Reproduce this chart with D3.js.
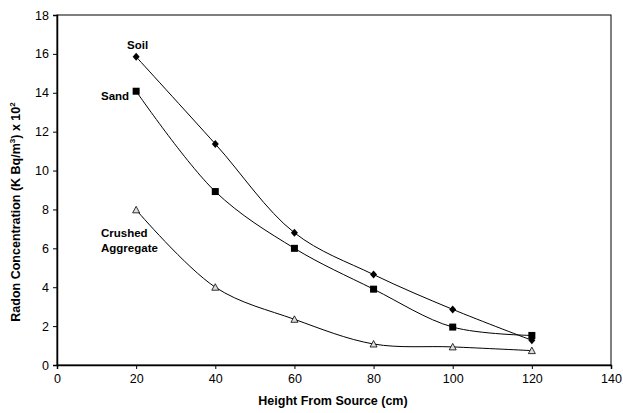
<!DOCTYPE html>
<html>
<head>
<meta charset="utf-8">
<script src="https://cdn.jsdelivr.net/npm/d3@7"></script>
<style>
  body { margin: 0; background: #fff; }
  text { font-family: Arial, "Liberation Sans", sans-serif; }
</style>
</head>
<body>
<div id="vis"></div>
<script>
var heights = [20, 40, 60, 80, 100, 120];
var soil = [15.85, 11.37, 6.8, 4.65, 2.86, 1.27];
var sand = [14.08, 8.92, 6.0, 3.9, 1.95, 1.52];
var crushed = [7.98, 4.0, 2.35, 1.08, 0.93, 0.74];
var xTicks = [0, 20, 40, 60, 80, 100, 120, 140];
var yTicks = [0, 2, 4, 6, 8, 10, 12, 14, 16, 18];

var width = 623;
var height = 413;
var plotLeft = 57, plotRight = 611, plotTop = 15, plotBottom = 365;

var svgElement = d3.select('#vis').append('svg')
    .attr('width', width)
    .attr('height', height);

var x = d3.scaleLinear().domain([0, 140]).range([plotLeft, plotRight]);
var y = d3.scaleLinear().domain([0, 18]).range([plotBottom, plotTop]);

// frame
svgElement.append('rect')
    .attr('x', plotLeft).attr('y', plotTop)
    .attr('width', plotRight - plotLeft).attr('height', plotBottom - plotTop)
    .attr('fill', 'none').attr('stroke', '#000').attr('stroke-width', 1);

var yAxis = svgElement.append('g')
    .attr('transform', 'translate(' + plotLeft + ',0)')
    .call(d3.axisLeft(y).tickValues(yTicks).tickSize(4).tickPadding(4));
var xAxis = svgElement.append('g')
    .attr('transform', 'translate(0,' + plotBottom + ')')
    .call(d3.axisBottom(x).tickValues(xTicks).tickSize(4).tickPadding(5));

[xAxis, yAxis].forEach(function (a) {
    a.selectAll('text').attr('font-size', 12.5).attr('font-family', 'Arial, Liberation Sans, sans-serif').attr('fill', '#000');
    a.selectAll('line').attr('stroke', '#000');
    a.select('.domain').attr('stroke', '#000').attr('stroke-width', 1.5);
});

var line = d3.line()
    .x(function (d) { return x(d[0]); })
    .y(function (d) { return y(d[1]); })
    .curve(d3.curveCatmullRom.alpha(0.5));

function pairs(vals) {
    return heights.map(function (h, i) { return [h, vals[i]]; });
}

[soil, sand, crushed].forEach(function (s) {
    svgElement.append('path')
        .attr('d', line(pairs(s)))
        .attr('fill', 'none')
        .attr('stroke', '#000')
        .attr('stroke-width', 1);
});

// markers
svgElement.selectAll('.soil').data(pairs(soil)).enter()
    .append('path')
    .attr('transform', function (d) { return 'translate(' + x(d[0]) + ',' + y(d[1]) + ')'; })
    .attr('d', 'M0,-4L3.5,0L0,4L-3.5,0Z')
    .attr('fill', '#000');

svgElement.selectAll('.sand').data(pairs(sand)).enter()
    .append('rect')
    .attr('x', function (d) { return x(d[0]) - 3.5; })
    .attr('y', function (d) { return y(d[1]) - 3.5; })
    .attr('width', 7).attr('height', 7)
    .attr('fill', '#000');

svgElement.selectAll('.crushed').data(pairs(crushed)).enter()
    .append('path')
    .attr('transform', function (d) { return 'translate(' + x(d[0]) + ',' + y(d[1]) + ')'; })
    .attr('d', 'M0,-3.5L3.5,3L-3.5,3Z')
    .attr('fill', '#ddd')
    .attr('stroke', '#000')
    .attr('stroke-width', 0.8);

// series labels
function label(txt, tx, ty) {
    svgElement.append('text')
        .attr('x', tx).attr('y', ty)
        .attr('font-size', 11.5).attr('font-weight', 'bold')
        .text(txt);
}
label('Soil', 127, 49);
label('Sand', 101, 100);
label('Crushed', 101, 237);
label('Aggregate', 101, 252);

// axis titles
svgElement.append('text')
    .attr('x', 333).attr('y', 405)
    .attr('text-anchor', 'middle')
    .attr('font-size', 12.5).attr('font-weight', 'bold')
    .text('Height From Source (cm)');

var yt = svgElement.append('text')
    .attr('transform', 'translate(20,212) rotate(-90)')
    .attr('text-anchor', 'middle')
    .attr('font-size', 12.5).attr('font-weight', 'bold');
yt.append('tspan').text('Radon Concentration (K Bq/m');
yt.append('tspan').attr('font-size', 8).attr('dy', -5).text('3');
yt.append('tspan').attr('dy', 5).text(') x 10');
yt.append('tspan').attr('font-size', 8).attr('dy', -5).text('2');
</script>
</body>
</html>
